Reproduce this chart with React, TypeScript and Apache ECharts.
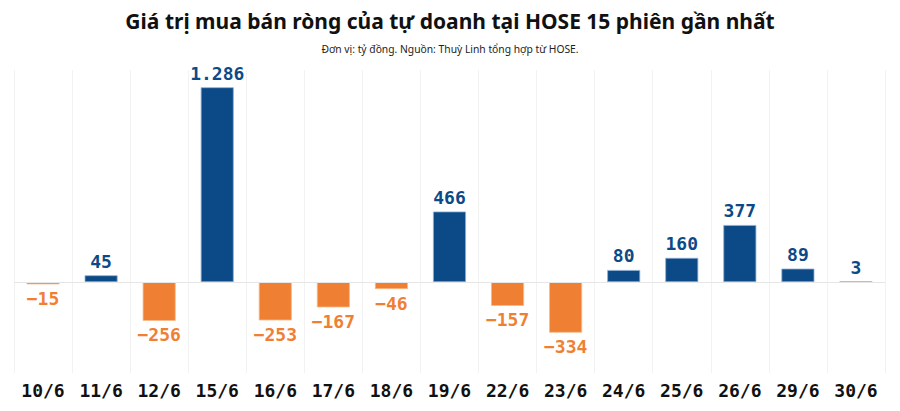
import React, { useEffect, useRef } from "react";
import * as echarts from "echarts";

const categories = ["10/6", "11/6", "12/6", "15/6", "16/6", "17/6", "18/6", "19/6", "22/6", "23/6", "24/6", "25/6", "26/6", "29/6", "30/6"];
const values = [-15, 45, -256, 1286, -253, -167, -46, 466, -157, -334, 80, 160, 377, 89, 3];

const titleText = "Giá trị mua bán ròng của tự doanh tại HOSE 15 phiên gần nhất";
const subtitleText = "Đơn vị: tỷ đồng. Nguồn: Thuỳ Linh tổng hợp từ HOSE.";

const BLUE = "#0b4a87";
const ORANGE = "#ef8033";

function fmt(v: number): string {
  const abs = Math.abs(v);
  const s = abs.toString().replace(/\B(?=(\d{3})+(?!\d))/g, ".");
  return (v < 0 ? "\u2212" : "") + s;
}

export default function App() {
  const ref = useRef<HTMLDivElement>(null);
  useEffect(() => {
    document.body.style.margin = "0";
    if (!ref.current) return;
    const chart = echarts.init(ref.current, undefined, { renderer: "svg" });
    chart.setOption({
      animation: false,
      backgroundColor: "#ffffff",
      title: [
        {
          text: titleText,
          left: "center",
          top: 5,
          textStyle: { fontFamily: "Noto Sans", fontWeight: "bold", fontSize: 21, color: "#111" },
        },
        {
          text: subtitleText,
          left: "center",
          top: 39,
          textStyle: { fontFamily: "Noto Sans", fontWeight: "normal", fontSize: 10.3, color: "#222" },
        },
      ],
      grid: { left: 14, right: 15, top: 70, bottom: 38, containLabel: false },
      xAxis: {
        type: "category",
        data: categories,
        position: "bottom",
        axisLine: { show: false, onZero: false },
        axisTick: { show: false },
        splitLine: { show: true, lineStyle: { color: "#f2f2f2", width: 1 } },
        axisLabel: {
          interval: 0,
          margin: 8,
          fontFamily: "DejaVu Sans Mono",
          fontWeight: "bold",
          fontSize: 18,
          color: "#111",
        },
      },
      yAxis: {
        type: "value",
        min: -600,
        max: 1400,
        interval: 200,
        show: false,
        splitLine: { show: false },
      },
      series: [
        {
          type: "bar",
          barWidth: 33,
          data: values.map((v) => ({
            value: v,
            itemStyle: {
              color: v >= 0 ? BLUE : ORANGE,
              borderColor: v >= 0 ? "#8fb0d6" : "#f6b98a",
              borderWidth: 0.8,
            },
            label: {
              show: true,
              position: v >= 0 ? "top" : "bottom",
              distance: 5,
              formatter: () => fmt(v),
              fontFamily: "DejaVu Sans Mono",
              fontWeight: "bold",
              fontSize: 18,
              color: v >= 0 ? BLUE : ORANGE,
            },
          })),
          markLine: {
            silent: true,
            symbol: "none",
            label: { show: false },
            lineStyle: { color: "#e6e6e6", type: "solid", width: 1 },
            data: [{ yAxis: 0 }],
          },
        },
      ],
    });
    return () => chart.dispose();
  }, []);
  return <div ref={ref} style={{ width: 900, height: 411 }} />;
}
